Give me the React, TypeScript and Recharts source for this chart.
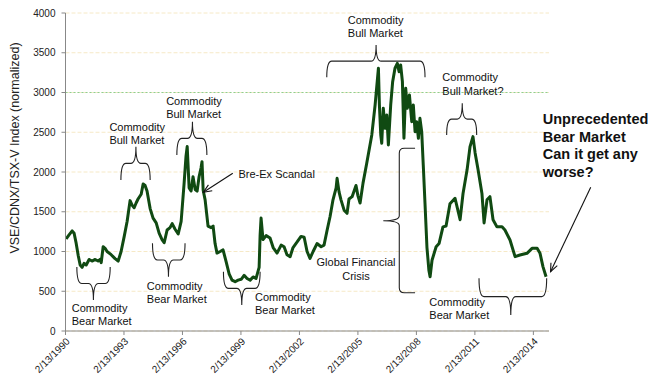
import React from 'react';
import {
  LineChart,
  Line,
  XAxis,
  YAxis,
  CartesianGrid,
  ReferenceLine,
  ReferenceArea,
  ReferenceDot,
} from 'recharts';

// ---------- data ----------
const tickLabels = ['2/13/1990', '2/13/1993', '2/13/1996', '2/13/1999', '2/13/2002', '2/13/2005', '2/13/2008', '2/13/2011', '2/13/2014'];
const yTicks = [0, 500, 1000, 1500, 2000, 2500, 3000, 3500, 4000];
const lastDate = 2014.92;

const years = [
  1990.15, 1990.3, 1990.46, 1990.56, 1990.66, 1990.77, 1990.87, 1990.97, 1991.07, 1991.18,
  1991.33, 1991.48, 1991.64, 1991.79, 1991.89, 1991.95, 1992.05, 1992.15, 1992.25, 1992.46,
  1992.66, 1992.82, 1992.97, 1993.13, 1993.28, 1993.43, 1993.54, 1993.64, 1993.74, 1993.84,
  1994.0, 1994.1, 1994.2, 1994.3, 1994.46, 1994.61, 1994.77, 1994.92, 1995.07, 1995.18,
  1995.33, 1995.48, 1995.59, 1995.74, 1995.9, 1996.05, 1996.2, 1996.3, 1996.36, 1996.46,
  1996.56, 1996.66, 1996.77, 1996.87, 1996.97, 1997.07, 1997.12, 1997.18, 1997.28, 1997.43,
  1997.59, 1997.69, 1997.79, 1997.89, 1998.05, 1998.2, 1998.36, 1998.51, 1998.66, 1998.82,
  1998.97, 1999.13, 1999.28, 1999.43, 1999.59, 1999.74, 1999.89, 2000.05, 2000.1, 2000.15,
  2000.25, 2000.41, 2000.61, 2000.77, 2000.97, 2001.18, 2001.33, 2001.48, 2001.64, 2001.79,
  2002.0, 2002.2, 2002.36, 2002.51, 2002.66, 2002.82, 2003.02, 2003.23, 2003.38, 2003.54,
  2003.69, 2003.84, 2004.0, 2004.05, 2004.15, 2004.25, 2004.41, 2004.56, 2004.66, 2004.82,
  2005.02, 2005.12, 2005.23, 2005.38, 2005.57, 2005.83, 2006.0, 2006.17, 2006.22, 2006.29,
  2006.34, 2006.42, 2006.51, 2006.6, 2006.68, 2006.8, 2006.9, 2007.02, 2007.14, 2007.23,
  2007.31, 2007.4, 2007.48, 2007.57, 2007.65, 2007.76, 2007.88, 2007.96, 2008.05, 2008.13,
  2008.22, 2008.3, 2008.39, 2008.47, 2008.56, 2008.66, 2008.76, 2008.82,
  2008.92, 2009.13, 2009.28, 2009.48, 2009.64, 2009.84, 2010.1, 2010.36, 2010.51,
  2010.72, 2010.87, 2011.02, 2011.13, 2011.28, 2011.48, 2011.59, 2011.74, 2011.89, 2012.05,
  2012.25, 2012.51, 2012.66, 2012.92, 2013.18, 2013.43, 2013.79, 2014.05, 2014.31, 2014.46,
  2014.61, 2014.77,
];

const values = [
  1160, 1210, 1260, 1230, 1110, 950, 830, 800, 850, 830,
  900, 880, 900, 880, 900, 860, 1060, 1040, 1000, 960,
  910, 880, 1000, 1190, 1380, 1640, 1580, 1550, 1610, 1660,
  1720, 1850, 1830, 1760, 1540, 1420, 1360, 1230, 1150, 1110,
  1270, 1300, 1350, 1280, 1220, 1380, 1850, 2200, 2320, 1800,
  1760, 1940, 1780, 1760, 1940, 2050, 2130, 1770, 1650, 1320,
  1300, 1320, 1100, 980, 1000, 1020, 870, 720, 640, 620,
  640, 650, 700, 660, 640, 680, 660, 800, 1200, 1420,
  1150, 1200, 1170, 1050, 980, 1080, 1060, 960, 935, 1050,
  1120, 1190, 1180, 1000, 914, 1000, 1100, 1060, 1080, 1270,
  1440, 1650, 1800, 1920, 1750, 1650, 1520, 1480, 1660, 1690,
  1830, 1700, 1610, 1860, 2110, 2466, 2843, 3305, 2843, 2466,
  2361, 2801, 2550, 2717, 2340, 2843, 3136, 3305, 3367, 3262,
  3346, 3136, 2424, 3052, 2801, 2969, 2633, 2843, 2507, 2633,
  2424, 2675, 2507, 2088, 1600, 1050, 760, 683,
  890, 1060, 1100, 1310, 1320, 1600, 1670, 1400, 1730,
  2030, 2320, 2445, 2240, 2030, 1730, 1360, 1650, 1690, 1400,
  1310, 1310, 1270, 1145, 935, 956, 977, 1040, 1040, 977,
  810, 683,
];

// Annotations (data coordinates: decimal year / index value)
const braces = [
  { dir: 'up', x1: 1990.7, x2: 1992.41, yEnd: 805, yTip: 390, tip: 1991.55 },
  { dir: 'down', x1: 1992.96, x2: 1994.46, yEnd: 1900, yTip: 2318, tip: 1993.73 },
  { dir: 'up', x1: 1994.58, x2: 1996.25, yEnd: 1103, yTip: 683, tip: 1995.4 },
  { dir: 'down', x1: 1995.83, x2: 1997.37, yEnd: 2214, yTip: 2633, tip: 1996.63 },
  { dir: 'up', x1: 1998.22, x2: 2000.1, yEnd: 746, yTip: 327, tip: 1999.16 },
  { dir: 'down', x1: 2003.52, x2: 2008.56, yEnd: 3191, yTip: 3598, tip: 2006.05 },
  { dir: 'down', x1: 2009.67, x2: 2011.21, yEnd: 2466, yTip: 2864, tip: 2010.47 },
  { dir: 'up', x1: 2011.33, x2: 2014.8, yEnd: 663, yTip: 201, tip: 2012.96 },
];
const vBrace = { xTip: 2006.42, xSpine: 2007.24, xEnd: 2008.05, yTop: 2298, yBottom: 482, yTip: 1387 };

const notes = [
  { x: 1990.44, y: 290, lines: ['Commodity', 'Bear Market'], anchor: 'start', bold: false },
  { x: 1992.37, y: 2565, lines: ['Commodity', 'Bull Market'], anchor: 'start', bold: false },
  { x: 1994.29, y: 566, lines: ['Commodity', 'Bear Market'], anchor: 'start', bold: false },
  { x: 1995.28, y: 2893, lines: ['Commodity', 'Bull Market'], anchor: 'start', bold: false },
  { x: 1998.99, y: 1975, lines: ['Bre-Ex Scandal'], anchor: 'start', bold: false },
  { x: 1999.84, y: 432, lines: ['Commodity', 'Bear Market'], anchor: 'start', bold: false },
  { x: 2004.6, y: 3912, lines: ['Commodity', 'Bull Market'], anchor: 'start', bold: false },
  { x: 2009.45, y: 3192, lines: ['Commodity', 'Bull Market?'], anchor: 'start', bold: false },
  { x: 2005.02, y: 864, lines: ['Global Financial', 'Crisis'], anchor: 'middle', bold: false },
  { x: 2008.78, y: 365, lines: ['Commodity', 'Bear Market'], anchor: 'start', bold: false },
  { x: 2014.6, y: 2667, lines: ['Unprecedented', 'Bear Market', 'Can it get any', 'worse?'], anchor: 'start', bold: true },
];

const arrows = [
  { x1: 1998.7, y1: 1984, x2: 1997.19, y2: 1745 },
  { x1: 2017.06, y1: 1808, x2: 2015.0, y2: 746 },
];

const tickPos = tickLabels.map((s) => {
  const [m, d, y] = s.split('/').map(Number);
  return y + ((m - 1) * 31 + d - 1) / 365;
});
const data = years.map((t, i) => ({ t, v: values[i] }));

const FONT = '"Liberation Sans", Arial, sans-serif';

const BraceShape = (b: any) => (p: any) => {
  const { x, y, width, height } = p;
  if (width == null || height == null) return <g />;
  const x0 = x;
  const x1 = x + width;
  const f = (b.tip - b.x1) / (b.x2 - b.x1);
  const tx = x0 + f * width;
  const r = 5;
  const ty = y;
  const by = y + height;
  const my = y + height * 0.5;
  let d = '';
  if (b.dir === 'up') {
    d = `M${x0},${ty} Q${x0},${my} ${x0 + r},${my} L${tx - r},${my} Q${tx},${my} ${tx},${by} Q${tx},${my} ${tx + r},${my} L${x1 - r},${my} Q${x1},${my} ${x1},${ty}`;
  } else {
    d = `M${x0},${by} Q${x0},${my} ${x0 + r},${my} L${tx - r},${my} Q${tx},${my} ${tx},${ty} Q${tx},${my} ${tx + r},${my} L${x1 - r},${my} Q${x1},${my} ${x1},${by}`;
  }
  return <path d={d} fill="none" stroke="#222" strokeWidth={1.1} />;
};

const VBraceShape = (p: any) => {
  const { x, y, width, height } = p;
  if (width == null || height == null) return <g />;
  const xl = x;
  const xr = x + width;
  const xs = x + width * ((vBrace.xSpine - vBrace.xTip) / (vBrace.xEnd - vBrace.xTip));
  const ty = y;
  const by = y + height;
  const my = y + height * ((vBrace.yTop - vBrace.yTip) / (vBrace.yTop - vBrace.yBottom));
  const r = 5;
  const d = `M${xr},${ty} L${xs + r},${ty} Q${xs},${ty} ${xs},${ty + r} L${xs},${my - r} Q${xs},${my} ${xl},${my} Q${xs},${my} ${xs},${my + r} L${xs},${by - r} Q${xs},${by} ${xs + r},${by} L${xr},${by}`;
  return <path d={d} fill="none" stroke="#222" strokeWidth={1.1} />;
};

const NoteShape = (n: any) => (p: any) => {
  const { cx, cy } = p;
  if (cx == null || cy == null) return <g />;
  const fs = n.bold ? 14.5 : 11;
  const lh = n.bold ? 17.5 : 13.5;
  return (
    <text
      x={cx}
      y={cy}
      fontFamily={FONT}
      fontSize={fs}
      fontWeight={n.bold ? 'bold' : 'normal'}
      fill="#111"
      textAnchor={n.anchor}
    >
      {n.lines.map((l: string, i: number) => (
        <tspan key={i} x={cx} y={cy + i * lh} dy="0.35em">
          {l}
        </tspan>
      ))}
    </text>
  );
};

const ArrowShape = (p: any) => {
  const { x1, y1, x2, y2 } = p;
  if (x1 == null) return <g />;
  const ang = Math.atan2(y2 - y1, x2 - x1);
  const L = 9;
  const w = 0.4;
  const ax = x2 + L * Math.cos(ang + Math.PI - w);
  const ay = y2 + L * Math.sin(ang + Math.PI - w);
  const bx = x2 + L * Math.cos(ang + Math.PI + w);
  const by = y2 + L * Math.sin(ang + Math.PI + w);
  return (
    <g>
      <line x1={x1} y1={y1} x2={x2} y2={y2} stroke="#111" strokeWidth={1.1} />
      <path d={`M${ax},${ay} L${x2},${y2} L${bx},${by}`} fill="none" stroke="#111" strokeWidth={1.1} />
    </g>
  );
};

export default function App() {
  return (
    <div style={{ position: 'absolute', left: 0, top: 0, width: 652, height: 377, background: '#fff' }}>
      <div
        style={{
          position: 'absolute',
          left: 15 - 150,
          top: 148 - 8,
          width: 300,
          height: 16,
          lineHeight: '16px',
          textAlign: 'center',
          transform: 'rotate(-90deg)',
          transformOrigin: '150px 8px',
          fontFamily: FONT,
          fontSize: 12.5,
          color: '#222',
          whiteSpace: 'nowrap',
        }}
      >
        VSE/CDNX/TSX-V Index (normalized)
      </div>
      <LineChart
        width={652}
        height={377}
        data={data}
        margin={{ top: 13, right: 103, left: 10, bottom: 0 }}
        style={{ fontFamily: FONT }}
      >
        <CartesianGrid vertical={false} stroke="#f6e9c6" strokeDasharray="4 2" />
        <ReferenceLine y={3000} stroke="#8fcf8f" strokeDasharray="2 2" />
        <XAxis
          type="number"
          dataKey="t"
          domain={[tickPos[0], lastDate]}
          ticks={tickPos}
          interval={0}
          tickFormatter={(v: number) => tickLabels[tickPos.findIndex((p) => Math.abs(p - v) < 0.01)] ?? ''}
          angle={-45}
          textAnchor="end"
          height={46}
          tickSize={4}
          tickMargin={2}
          stroke="#888"
          tick={{ fontSize: 10, fill: '#222', fontFamily: FONT }}
        />
        <YAxis
          type="number"
          domain={[0, 4000]}
          ticks={yTicks}
          interval={0}
          width={55.5}
          tickSize={4}
          tickMargin={6}
          stroke="#888"
          tick={{ fontSize: 10, fill: '#222', fontFamily: FONT }}
        />
        <Line
          type="linear"
          dataKey="v"
          stroke="#104a12"
          strokeWidth={3}
          dot={false}
          isAnimationActive={false}
          strokeLinejoin="round"
        />
        {braces.map((b, i) => (
          <ReferenceArea
            key={'b' + i}
            x1={b.x1}
            x2={b.x2}
            y1={b.dir === 'up' ? b.yEnd : b.yTip}
            y2={b.dir === 'up' ? b.yTip : b.yEnd}
            ifOverflow="visible"
            shape={BraceShape(b)}
          />
        ))}
        <ReferenceArea
          x1={vBrace.xTip}
          x2={vBrace.xEnd}
          y1={vBrace.yTop}
          y2={vBrace.yBottom}
          ifOverflow="visible"
          shape={VBraceShape}
        />
        {arrows.map((a, i) => (
          <ReferenceLine
            key={'a' + i}
            segment={[{ x: a.x1, y: a.y1 }, { x: a.x2, y: a.y2 }]}
            ifOverflow="visible"
            shape={ArrowShape}
          />
        ))}
        {notes.map((n, i) => (
          <ReferenceDot key={'n' + i} x={n.x} y={n.y} r={1} ifOverflow="visible" shape={NoteShape(n)} />
        ))}
      </LineChart>
    </div>
  );
}
